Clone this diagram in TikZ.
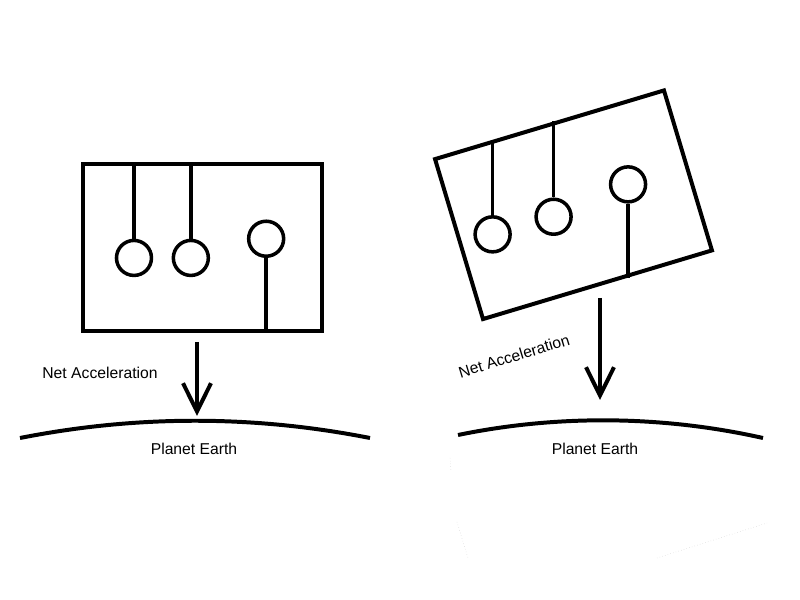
\documentclass[tikz,border=0pt]{standalone}
\usepackage{fontspec}
\setmainfont{Liberation Sans}
\usetikzlibrary{arrows.meta,calc,positioning}

\begin{document}
\begin{tikzpicture}[x=0.03cm, y=-0.03cm, >={Straight Barb[length=0.85cm,width=0.84cm]},
        frame/.style={draw, line width=3.4pt, minimum width=7.17cm, minimum height=5.01cm, inner sep=0pt},
        bob/.style={draw, circle, line width=3pt, minimum size=1.05cm, inner sep=0pt},
        rod/.style={line width=3pt},
        ground/.style={line width=3.4pt},
        lbl/.style={font=\fontsize{13.4}{16}\selectfont, inner sep=0pt},
        crease/.style={gray!40, line width=0.4pt, dotted}]
        \useasboundingbox (0,0) rectangle (800,600);

        \node[frame] (boxL) at (202.5,247.5) {};
        \coordinate (hookL1) at ($(boxL.north west)!0.218!(boxL.north east)$);
        \coordinate (hookL2) at ($(boxL.north west)!0.452!(boxL.north east)$);
        \coordinate (footL3) at ($(boxL.south west)!0.762!(boxL.south east)$);
        \node[bob, below=2.3cm of hookL1] (bobL1) {};
        \node[bob, below=2.3cm of hookL2] (bobL2) {};
        \node[bob, above=2.25cm of footL3] (bobL3) {};
        \draw[rod] (hookL1) -- (bobL1);
        \draw[rod] (hookL2) -- (bobL2);
        \draw[rod] (footL3) -- (bobL3);

        \node[frame, rotate=16.7] (boxR) at (573.5,204.75) {};
        \coordinate (hookR1) at ($(boxR.north west)!0.258!(boxR.north east)$);
        \coordinate (hookR2) at ($(boxR.north west)!0.52!(boxR.north east)$);
        \coordinate (footR3) at ($(boxR.south west)!0.629!(boxR.south east)$);
        \node[bob, below=2.26cm of hookR1] (bobR1) {};
        \node[bob, below=2.28cm of hookR2] (bobR2) {};
        \node[bob, above=2.22cm of footR3] (bobR3) {};
        \draw[rod] (hookR1) -- (bobR1);
        \draw[rod] (hookR2) -- (bobR2);
        \draw[rod] (footR3) -- (bobR3);

        \coordinate (fallL) at (197,342);
        \coordinate (hitL) at (197,416);
        \draw[->, line width=3.4pt] (fallL) -- (hitL);
        \coordinate (fallR) at (600,298);
        \coordinate (hitR) at (600,400);
        \draw[->, line width=3.4pt] (fallR) -- (hitR);

        \coordinate (earthL0) at (20,438);
        \coordinate (earthL1) at (370,438);
        \draw[ground] (earthL0) .. controls (137,415) and (253,415) .. (earthL1);
        \coordinate (earthR0) at (458,435);
        \coordinate (earthR1) at (763,438);
        \draw[ground] (earthR0) .. controls (560,414) and (665,416) .. (earthR1);

        \node[lbl] (accLabelL) at (100,373) {Net Acceleration};
        \node[lbl, rotate=17] (accLabelR) at (514,356) {Net Acceleration};
        \node[lbl] (earthLabelL) at (194,449) {Planet Earth};
        \node[lbl] (earthLabelR) at (595,449) {Planet Earth};

        \draw[crease] (450,458) -- (451,470);
        \draw[crease] (457,522) -- (468,558);
        \draw[crease] (657,558) -- (767,523);
        \end{tikzpicture}
\end{document}
